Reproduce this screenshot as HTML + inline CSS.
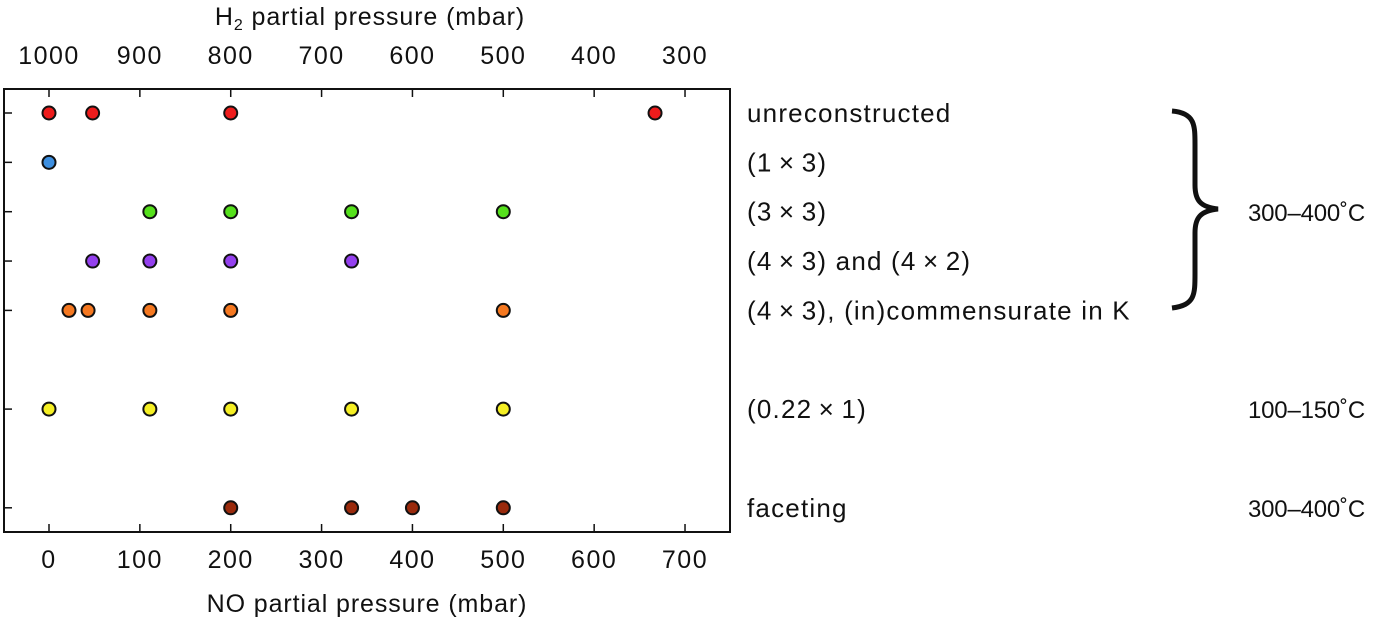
<!DOCTYPE html>
<html><head><meta charset="utf-8"><style>
body{margin:0;background:#fff;}
svg text{font-family:"Liberation Sans",sans-serif;fill:#111;}
</style></head><body>
<svg width="1392" height="629" xmlns="http://www.w3.org/2000/svg">
<g id="chart"></g>
</svg>
<script>
const rowLabels=["unreconstructed","(1\u2009\u00d7\u20093)","(3\u2009\u00d7\u20093)","(4\u2009\u00d7\u20093) and (4\u2009\u00d7\u20092)","(4\u2009\u00d7\u20093), (in)commensurate in K","(0.22\u2009\u00d7\u20091)","faceting"];
const rowPos=[0,1,2,3,4,6,8];
const rowColors=["#ee1c1c","#3d8fe0","#55e01c","#9440ee","#f57820","#f5ef24","#9a2a0c"];
const rowValues=[[0,48,200,667],[0],[111,200,333,500],[48,111,200,333],[22,43,111,200,500],[0,111,200,333,500],[200,333,400,500]];
const noTicks=[0,100,200,300,400,500,600,700];
const h2Ticks=[1000,900,800,700,600,500,400,300];
const X0=4,X1=730,Y0=89,Y1=532;
const xs=v=>49+v*0.9086;
const ys=r=>113+r*49.35;
const g=document.getElementById('chart');
const NS="http://www.w3.org/2000/svg";
function mk(t,a,txt){const e=document.createElementNS(NS,t);for(const k in a)e.setAttribute(k,a[k]);if(txt!==undefined)e.textContent=txt;g.appendChild(e);return e;}
let e=mk('rect',{x:X0,y:Y0,width:X1-X0,height:Y1-Y0,fill:'none',stroke:'#111','stroke-width':2});


noTicks.forEach(v=>{
 let t=mk('line',{x1:xs(v),x2:xs(v),y1:Y1,y2:Y1-8,stroke:'#111','stroke-width':1.5});
 
 
 let l=mk('text',{x:xs(v),y:568,'font-size':25,'letter-spacing':1.5,'text-anchor':'middle'},v);
 
 
});
h2Ticks.forEach(v=>{
 const x=xs(1000-v);
 let t=mk('line',{x1:x,x2:x,y1:Y0,y2:Y0+8,stroke:'#111','stroke-width':1.5});
 
 
 let l=mk('text',{x:x,y:64,'font-size':25,'letter-spacing':1.5,'text-anchor':'middle'},v);
 
 
});
rowLabels.forEach((lab,i)=>{
 const y=ys(rowPos[i]);
 let t=mk('line',{x1:X0,x2:X0+8,y1:y,y2:y,stroke:'#111','stroke-width':1.5});
 
 
 let l=mk('text',{x:747,y:y+9,'font-size':26,'letter-spacing':1.2},lab);
 
 
 rowValues[i].forEach(v=>{
  let c=mk('circle',{cx:xs(v),cy:y,r:6.5,fill:rowColors[i],stroke:'#111','stroke-width':2});
  
  
 });
});
e=mk('text',{x:367,y:612,'font-size':25,'letter-spacing':0.9,'text-anchor':'middle'},'NO partial pressure (mbar)');


e=mk('text',{x:370,y:25,'font-size':25,'letter-spacing':0.9,'text-anchor':'middle'},'');
e.innerHTML='H<tspan font-size="16" dy="5">2</tspan><tspan dy="-5">  partial pressure (mbar)</tspan>';


e=mk('path',{d:'M1172,111 C1195,113 1195,125 1195,145 L1195,185 C1195,200 1200,207 1218,209 C1200,211 1195,218 1195,233 L1195,273 C1195,295 1195,305 1172,308',fill:'none',stroke:'#111','stroke-width':5});


[["300\u2013400\u02daC",221],["100\u2013150\u02daC",418],["300\u2013400\u02daC",517]].forEach(([t,y])=>{
 let l=mk('text',{x:1248,y:y,'font-size':24,'letter-spacing':-0.2},t);
 
 
});
</script>
</body></html>
